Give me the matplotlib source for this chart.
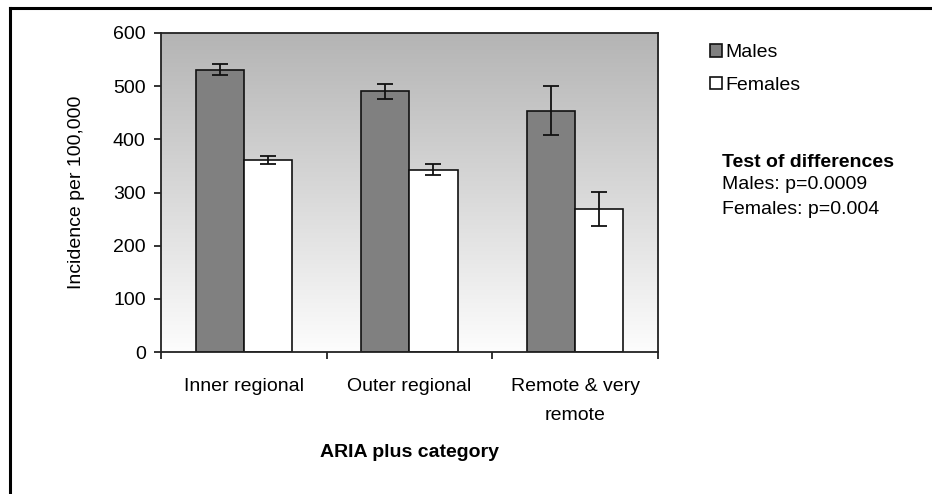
import matplotlib.pyplot as plt
import numpy as np

categories = ["Inner regional", "Outer regional", "Remote & very\nremote"]
males = [531, 490, 454]
males_err = [10, 14, 46]
females = [361, 343, 269]
females_err = [7, 10, 32]


def main():
    plt.rcParams.update({"font.family": "Liberation Sans", "font.size": 14})

    fig = plt.figure(figsize=(9.32, 4.94), dpi=100)
    ax = fig.add_axes([0.1727, 0.2874, 0.5333, 0.6458])

    x = np.arange(len(categories))
    width = 0.29

    # grey-to-white backdrop behind the bars
    grad = np.linspace(0, 1, 256).reshape(-1, 1)
    cmap = plt.matplotlib.colors.LinearSegmentedColormap.from_list(
        "bg", ["#b4b4b4", "#fdfdfd"])
    ax.imshow(grad, cmap=cmap, aspect="auto", extent=[-0.5, 2.5, 0, 600],
              zorder=0)

    err_kw = dict(ecolor="#111111", elinewidth=1.3, capsize=5.5, capthick=1.3)
    ax.bar(x - width / 2, males, width, yerr=males_err, color="#808080",
           edgecolor="#111111", linewidth=1.2, label="Males",
           error_kw=err_kw, zorder=2)
    ax.bar(x + width / 2, females, width, yerr=females_err, color="white",
           edgecolor="#111111", linewidth=1.2, label="Females",
           error_kw=err_kw, zorder=2)

    ax.set_xlim(-0.5, 2.5)
    ax.set_ylim(0, 600)
    ax.set_yticks(range(0, 601, 100))
    ax.set_xticks([-0.5, 0.5, 1.5, 2.5])
    ax.set_xticklabels([])
    ax.set_xticks(x, minor=True)
    ax.set_xticklabels(categories, minor=True, linespacing=1.9)
    ax.tick_params(axis="x", which="minor", length=0, pad=19)
    ax.tick_params(axis="y", pad=6)
    ax.tick_params(axis="both", which="major", length=5, width=1.2,
                   color="#111111")
    for s in ax.spines.values():
        s.set_linewidth(1.3)
        s.set_color("#222222")

    ax.set_ylabel("Incidence per 100,000", labelpad=20)
    ax.set_xlabel("ARIA plus category", fontweight="bold", labelpad=14)

    ax.legend(loc="upper left", bbox_to_anchor=(0.762, 0.91),
              bbox_transform=fig.transFigure, frameon=False,
              handlelength=0.6, handleheight=0.6, handletextpad=0.2,
              labelspacing=0.8, borderaxespad=0, borderpad=0)

    fig.text(0.775, 0.672, "Test of differences", fontweight="bold",
             va="center")
    fig.text(0.775, 0.626, "Males: p=0.0009", va="center")
    fig.text(0.775, 0.576, "Females: p=0.004", va="center")

    # outer frame lines along the top and left edge
    fig.add_artist(plt.Line2D([0.0107, 1], [0.984, 0.984], color="black",
                              linewidth=2.2))
    fig.add_artist(plt.Line2D([0.0107, 0.0107], [0, 0.984], color="black",
                              linewidth=2.2))

    fig.savefig("out.png")


if __name__ == "__main__":
    main()
